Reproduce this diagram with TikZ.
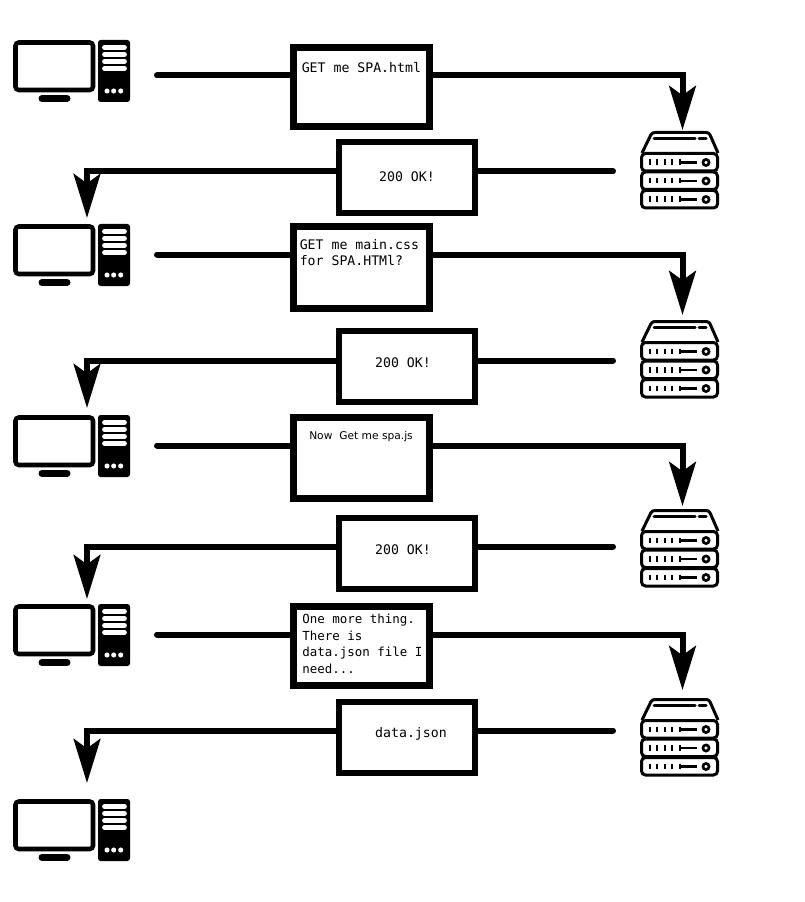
\documentclass[tikz,border=0pt]{standalone}
\usepackage{fontspec}
\setmainfont{DejaVu Sans}
\setmonofont{DejaVu Sans Mono}
\usetikzlibrary{positioning,arrows.meta,calc}
\tikzset{
 wire/.style={line width=4.5pt,line cap=round,line join=miter},
 flow/.style={wire,-{Stealth[length=33pt,width=20pt,inset=7pt]}},
 reqbox/.style={draw,fill=white,line width=5.25pt,minimum width=102pt,inner sep=0pt},
 respbox/.style={draw,fill=white,line width=4.5pt,minimum width=102pt,minimum height=53pt,inner sep=0pt},
 msg/.style={inner sep=0pt,align=left,font=\ttfamily\fontsize{9.9}{12.5}\selectfont},
 computer/.pic={
  \draw[line width=3.4pt,rounded corners=2.5pt] (2.5,2.5) rectangle (80,50);
  \draw[line width=5.25pt,line cap=round] (29,58.5)--(54,58.5);
  \fill[rounded corners=2pt] (85,0) rectangle (117,62);
  \foreach \b in {7.5,14.5,21.5,28.5}
   \draw[white,line width=3.6pt,line cap=round] (91.5,\b)--(111.5,\b);
  \foreach \d in {94,100.7,107.7}
   \fill[white] (\d,51) circle (1.9pt);
 },
 server/.pic={
  \draw[line width=2.25pt,line join=round,rounded corners=2pt] (2,22)--(12,1.5)--(69,1.5)--(78,22);
  \draw[line width=2.25pt,line cap=round] (14,7.5)--(55,7.5) (59,7.5)--(66,7.5);
  \foreach \r in {22.5,41,59.5}{
   \draw[line width=2.25pt,rounded corners=3pt,fill=white] (1.5,\r) rectangle (77.5,\r+17.5);
   \foreach \t in {10,17,25,32,40}
    \draw[line width=2pt] (\t,\r+6)--(\t,\r+11.5);
   \draw[line width=2pt] (40,\r+9)--(57,\r+9);
   \draw[line width=2pt] (66,\r+9) circle (2.3pt);
  }
 }
}
\begin{document}
\begin{tikzpicture}[x=.75pt,y=-.75pt]
\useasboundingbox (0,0) rectangle (804,902);
\foreach \n/\y in {1/40,2/224,3/415,4/604,5/799}
 \pic (client\n) at (13,\y) {computer};
\foreach \n/\y in {1/131,2/320,3/509,4/698}
 \pic (server\n) at (640,\y) {server};
% requests
\foreach \n/\c/\h/\l/\t in {1/87.5/79/75.5/130,2/267.5/81/254.5/315,3/458/81/445.5/506,4/646/79/634.5/690}{
 \node[reqbox,minimum height=\h*.75pt] (req\n) at (361.5,\c) {};
 \coordinate (out\n) at (157,\l);
 \coordinate (tip\n) at (682.5,\t);
 \draw[wire] (out\n)--(out\n-|req\n.west);
 \draw[flow] (out\n-|req\n.east)-|(tip\n);
}
% answers
\foreach \n/\c/\l/\t in {1/177.5/171.5/218,2/366.5/360.5/408,3/553.5/546.5/599,4/737.5/730.5/783}{
 \node[respbox] (resp\n) at (407,\c) {};
 \coordinate (back\n) at (613,\l);
 \coordinate (arr\n) at (87,\t);
 \draw[wire] (back\n)--(back\n-|resp\n.east);
 \draw[flow] (back\n-|resp\n.west)-|(arr\n);
}
\node[msg,anchor=west] (txtreq1) at (301.5,68) {GET me SPA.html};
\node[msg,anchor=west] (txtreq2) at (299.5,252.5) {GET me main.css\\for SPA.HTMl?};
\node[inner sep=0pt,anchor=west,font=\fontsize{8}{10}\selectfont] (txtreq3) at (309,437) {Now\ \ Get me spa.js};
\node[msg,anchor=west,font=\ttfamily\fontsize{9.35}{12.5}\selectfont] (txtreq4) at (302,644) {One more thing.\\There is\\data.json file I\\need...};
\node[msg] (txtresp1) at (407,177) {200 OK!};
\node[msg] (txtresp2) at (403,363) {200 OK!};
\node[msg] (txtresp3) at (403,550) {200 OK!};
\node[msg] (txtresp4) at (411,734) {data.json};
\end{tikzpicture}
\end{document}
